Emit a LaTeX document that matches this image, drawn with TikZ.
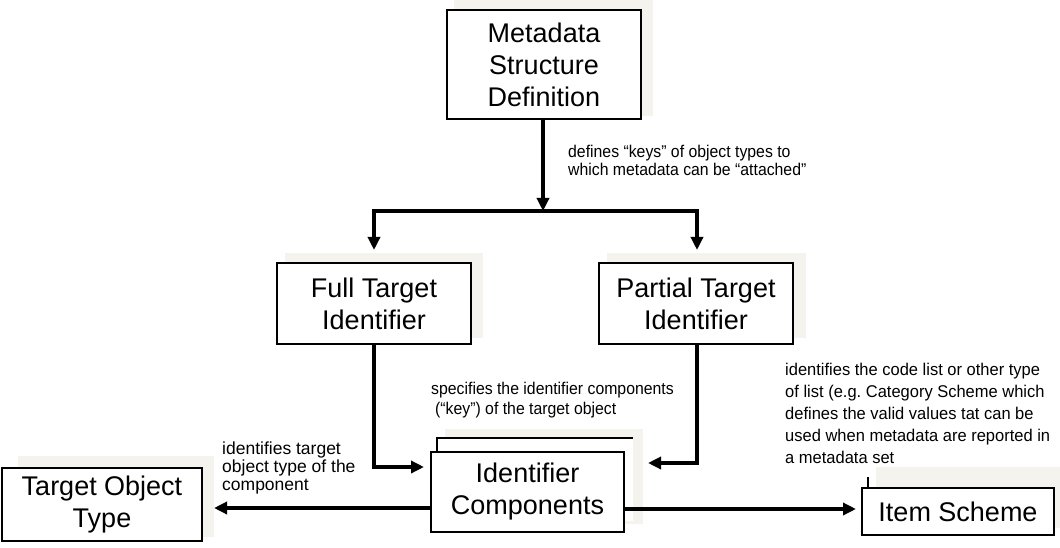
\documentclass[tikz,border=0pt]{standalone}
\usepackage{fontspec}
\setmainfont{Liberation Sans}
\newfontfamily\notefont[FakeStretch=0.93]{Liberation Sans}
\newfontfamily\widenotefont[FakeStretch=0.97]{Liberation Sans}
\usetikzlibrary{arrows.meta,calc,backgrounds}
\definecolor{shade}{RGB}{244,243,238}
\frenchspacing
\tikzset{
  box/.style={draw=black, line width=2pt, fill=white, inner sep=0pt,
    align=center, font=\fontsize{27}{32}\selectfont},
  shadowfill/.style={fill=shade},
  link/.style={line width=3.6pt, -{Triangle[length=13pt,width=12pt]}},
  note/.style={inner sep=0pt, anchor=north west, align=left},
}
\begin{document}
\begin{tikzpicture}[x=1pt,y=-1pt]
\useasboundingbox (0,0) rectangle (1060,548);

% boxes
\node[box, minimum width=194pt, minimum height=109pt] (msd) at (544,64.5) {Metadata\\Structure\\Definition};
\node[box, minimum width=194pt, minimum height=81pt] (fti) at (374,303.5) {Full Target\\Identifier};
\node[box, minimum width=194pt, minimum height=81pt] (pti) at (696,303.5) {Partial Target\\Identifier};
\node[box, minimum width=193pt, minimum height=80pt] (ic) at (527.5,492) {Identifier\\Components};
\node[box, minimum width=200pt, minimum height=73pt] (tot) at (102,504.5) {Target Object\\Type};
\node[box, minimum width=192pt, minimum height=47pt] (is) at (958,511.5) {Item Scheme};

% soft backdrops and the stacked sheet behind the components box
\begin{pgfonlayer}{background}
  \fill[shadowfill] ($(msd.north west)+(8,-10)$) rectangle ($(msd.south east)+(11,-4)$);
  \fill[shadowfill] ($(fti.north west)+(9,-9)$) rectangle ($(fti.south east)+(11,-7)$);
  \fill[shadowfill] ($(pti.north west)+(9,-9)$) rectangle ($(pti.south east)+(12,-7)$);
  \fill[shadowfill] ($(ic.north west)+(15,-22)$) rectangle ($(ic.south east)+(18,-9)$);
  \fill[shadowfill] ($(tot.north west)+(17,-11)$) rectangle ($(tot.south east)+(11,-5)$);
  \fill[shadowfill] ($(is.north west)+(15,-20)$) rectangle (1060,528);
  \fill[white] ($(ic.north west)+(7,-13)$) rectangle ($(ic.south east)+(8,-12)$);
  \draw[line width=1.6pt] ($(ic.north west)+(7,0)$) |- ($(ic.north east)+(8,-13)$);
\end{pgfonlayer}
\draw[line width=1.4pt] ($(is.north west)+(7,0)$) -- ($(is.north west)+(7,-10)$);

% connectors
\coordinate (fork) at ($(msd.south)+(-1,91)$);
\draw[link] ($(msd.south)+(-1,0)$) -- (fork);
\draw[link] (fork) -| ($(fti.north)+(0,-12)$);
\draw[link] (fork) -| ($(pti.north)+(1,-12)$);
\draw[link] (fti.south) |- ($(ic.west)+(-6,-25)$);
\draw[link] ($(pti.south)+(1,0)$) |- ($(ic.east)+(23,-29)$);
\draw[link] ($(ic.west)+(0,16)$) -- ($(tot.east |- ic.west)+(11,16)$);
\draw[link] ($(ic.east)+(0,17)$) -- ($(is.west |- ic.east)+(-5,17)$);

% labels
\node[note, font=\notefont\fontsize{17}{18}\selectfont] (lmsd) at (568,145)
  {defines “keys” of object types to\\which metadata can be “attached”};
\node[note, font=\notefont\fontsize{17}{20}\selectfont] (lic) at (431,382)
  {specifies the identifier components\\\hspace*{4pt}(“key”) of the target object};
\node[note, font=\fontsize{17.5}{18}\selectfont] (ltot) at (222,442)
  {identifies target\\object type of the\\component};
\node[note, font=\widenotefont\fontsize{17}{22}\selectfont] (lis) at (785,363)
  {identifies the code list or other type\\of list (e.g. Category Scheme which\\defines the valid values tat can be\\used when metadata are reported in\\a metadata set};
\end{tikzpicture}
\end{document}
